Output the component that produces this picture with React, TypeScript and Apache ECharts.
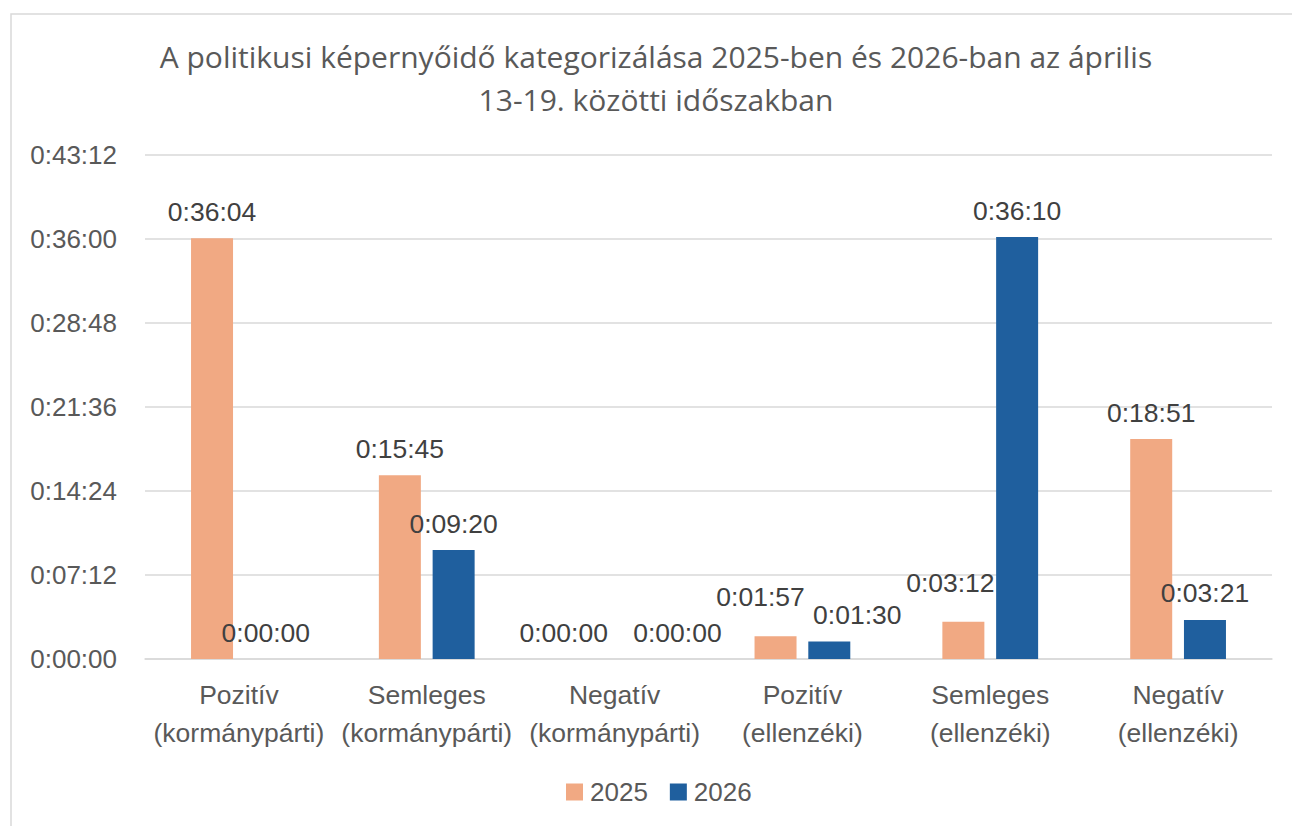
import React, { useEffect, useRef } from "react";
import * as echarts from "echarts";

const categories = [
  "Pozitív\n(kormánypárti)",
  "Semleges\n(kormánypárti)",
  "Negatív\n(kormánypárti)",
  "Pozitív\n(ellenzéki)",
  "Semleges\n(ellenzéki)",
  "Negatív\n(ellenzéki)",
];
// values in seconds
const series2025 = [2164, 945, 0, 117, 192, 1131];
const series2026 = [0, 560, 0, 90, 2170, 201];
const seriesNames = ["2025", "2026"];
const titleText =
  "A politikusi képernyőidő kategorizálása 2025-ben és 2026-ban az április\n13-19. közötti időszakban";
// label nudges (as in the reference, where overlapping labels were moved apart)
const labelOffsets2025: [number, number][] = [[0, 0], [0, 0], [-24, 0], [-15, -13], [-13, -12], [0, 0]];
const labelOffsets2026: [number, number][] = [[0, 0], [0, 0], [36, 0], [28, 0], [0, 0], [0, 0]];

function fmt(v: number): string {
  const h = Math.floor(v / 3600);
  const m = Math.floor((v % 3600) / 60);
  const s = Math.round(v % 60);
  return `${h}:${String(m).padStart(2, "0")}:${String(s).padStart(2, "0")}`;
}

const FONT = "Liberation Sans, Arial, sans-serif";

export default function App() {
  const ref = useRef<HTMLDivElement>(null);
  useEffect(() => {
    if (!ref.current) return;
    const chart = echarts.init(ref.current, null, { renderer: "svg" });
    const labelStyle = {
      show: true,
      position: "top" as const,
      distance: 13,
      formatter: (p: any) => fmt(p.value),
      color: "#404040",
      fontSize: 26.5,
      fontFamily: FONT,
    };
    const mk = (vals: number[], offs: [number, number][]) =>
      vals.map((v, i) => ({ value: v, label: { offset: offs[i] } }));
    chart.setOption({
      animation: false,
      backgroundColor: "#ffffff",
      graphic: [
        {
          type: "rect",
          shape: { x: 11, y: 14, width: 1400, height: 1000 },
          style: { fill: "none", stroke: "#d9d9d9", lineWidth: 1.5 },
          silent: true,
        },
      ],
      title: {
        text: titleText,
        left: 651,
        top: 30,
        textAlign: "center",
        textStyle: {
          color: "#595959",
          fontSize: 30,
          fontWeight: "normal",
          lineHeight: 43,
          fontFamily: "Open Sans, Noto Sans, sans-serif",
        },
      },
      legend: {
        top: 774,
        left: 561,
        itemWidth: 17,
        itemHeight: 17,
        itemGap: 22,
        icon: "rect",
        textStyle: {
          color: "#595959",
          fontSize: 26,
          padding: [0, 0, 0, 2],
          fontFamily: FONT,
        },
      },
      grid: { left: 145, right: 20, top: 155, bottom: 167, containLabel: false },
      xAxis: {
        type: "category",
        data: categories,
        axisLine: { lineStyle: { color: "#d9d9d9", width: 1.5 } },
        axisTick: { show: false },
        axisLabel: {
          interval: 0,
          color: "#595959",
          fontSize: 26.5,
          lineHeight: 38,
          margin: 17,
          fontFamily: FONT,
        },
      },
      yAxis: {
        type: "value",
        min: 0,
        max: 2592,
        interval: 432,
        axisLine: { show: false },
        axisTick: { show: false },
        splitLine: { lineStyle: { color: "#d9d9d9", width: 1.5 } },
        axisLabel: {
          color: "#595959",
          fontSize: 26,
          margin: 28,
          formatter: (v: number) => fmt(v),
          fontFamily: FONT,
        },
      },
      series: [
        {
          name: seriesNames[0],
          type: "bar",
          data: mk(series2025, labelOffsets2025),
          barWidth: 42,
          barGap: "28%",
          itemStyle: { color: "#F1A983" },
          label: labelStyle,
        },
        {
          name: seriesNames[1],
          type: "bar",
          data: mk(series2026, labelOffsets2026),
          barWidth: 42,
          barGap: "28%",
          itemStyle: { color: "#1F5F9E" },
          label: labelStyle,
        },
      ],
    });
    return () => chart.dispose();
  }, []);
  return (
    <div
      ref={ref}
      style={{ position: "fixed", left: 0, top: 0, width: 1292, height: 826 }}
    />
  );
}
